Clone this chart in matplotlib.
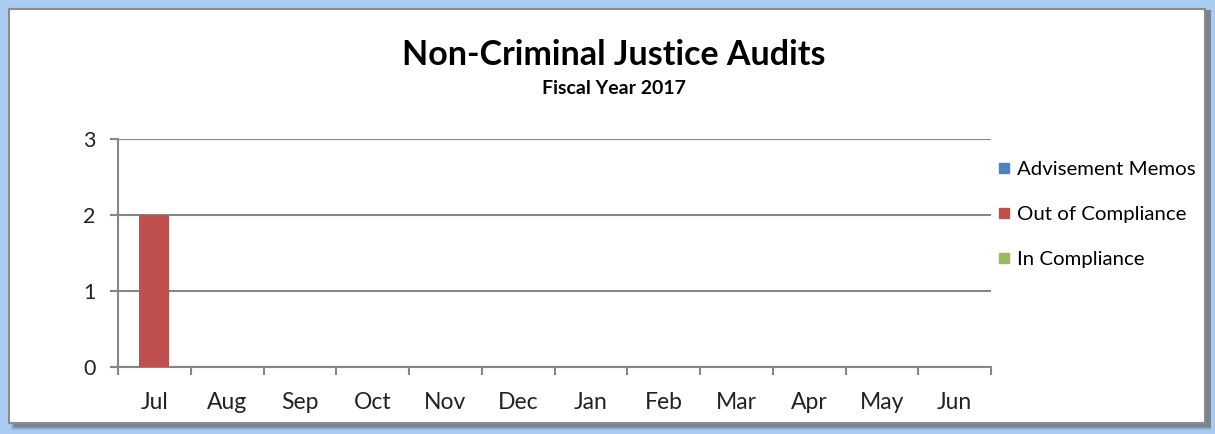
import numpy as np
import matplotlib
matplotlib.use("Agg")
import matplotlib.pyplot as plt
from matplotlib.patches import Rectangle
from matplotlib.lines import Line2D

plt.rcParams['font.family'] = ['Lato', 'DejaVu Sans']

months = ["Jul", "Aug", "Sep", "Oct", "Nov", "Dec",
          "Jan", "Feb", "Mar", "Apr", "May", "Jun"]
in_compliance = [0, 0, 0, 0, 0, 0, 0, 0, 0, 0, 0, 0]
out_of_compliance = [2, 0, 0, 0, 0, 0, 0, 0, 0, 0, 0, 0]
advisement_memos = [0, 0, 0, 0, 0, 0, 0, 0, 0, 0, 0, 0]

c_blue = "#4F81BD"
c_red = "#C0504D"
c_green = "#9BBB59"
grid_col = "#868686"

W, H = 1215, 434
fig = plt.figure(figsize=(W / 100, H / 100), dpi=100)
fig.patch.set_facecolor("#A9CBF2")

# shadow + white panel with gray frame
for i, a in enumerate([0.25, 0.35, 0.45, 0.55]):
    fig.patches.append(Rectangle(((11 + i) / W, (4 + i) / H), (1200 - i) / W, (420 - i) / H,
                                 transform=fig.transFigure, facecolor="#555555",
                                 alpha=a * 0.5, edgecolor="none", zorder=0))
fig.patches.append(Rectangle((9 / W, 11 / H), 1196 / W, 414 / H, transform=fig.transFigure,
                             facecolor="white", edgecolor="#8C8C8C", lw=1.5, zorder=1))

ax = fig.add_axes([118 / W, 1 - 367 / H, 873 / W, 228 / H])
ax.set_zorder(3)
ax.set_facecolor("none")
x = np.arange(len(months))
bw = 0.41
ax.bar(x, in_compliance, bw, color=c_green, zorder=3)
ax.bar(x, out_of_compliance, bw, bottom=in_compliance, color=c_red, zorder=3)
bottom2 = np.array(in_compliance) + np.array(out_of_compliance)
ax.bar(x, advisement_memos, bw, bottom=bottom2, color=c_blue, zorder=3)

ax.set_xlim(-0.5, len(months) - 0.5)
ax.set_ylim(0, 3)
ax.set_yticks([0, 1, 2, 3])
ax.set_xticks(x)
ax.set_xticklabels(months)
ax.set_xticks(np.arange(-0.5, len(months)), minor=True)
ax.tick_params(axis="x", which="major", length=0, pad=18, labelsize=16.5, colors="#222222")
ax.tick_params(axis="x", which="minor", length=6, width=1.5, color=grid_col)
ax.tick_params(axis="y", length=6, width=1.5, color=grid_col, pad=10, labelsize=15.5,
               labelcolor="#222222")
ax.yaxis.grid(True, color=grid_col, lw=1.5, zorder=1)
for s in ["top", "right"]:
    ax.spines[s].set_visible(False)
for s in ["left", "bottom"]:
    ax.spines[s].set_color(grid_col)
    ax.spines[s].set_linewidth(1.5)

fig.text(614 / W, 1 - 55 / H, "Non-Criminal Justice Audits", ha="center", va="center",
         fontsize=24.5, fontweight="bold", color="black")
fig.text(614 / W, 1 - 89 / H, "Fiscal Year 2017", ha="center", va="center",
         fontsize=14, fontweight="bold", color="black")

handles = [Line2D([], [], ls="none", marker="s", markersize=7, color=c)
           for c in [c_blue, c_red, c_green]]
leg = fig.legend(handles, ["Advisement Memos", "Out of Compliance", "In Compliance"],
                 loc="upper left", bbox_to_anchor=(998 / W, 1 - 161 / H), frameon=False,
                 fontsize=14.7, handlelength=0.6, handletextpad=0.35, labelspacing=1.35,
                 borderaxespad=0, borderpad=0)
leg.set_zorder(4)

fig.savefig("out.png", dpi=100)
